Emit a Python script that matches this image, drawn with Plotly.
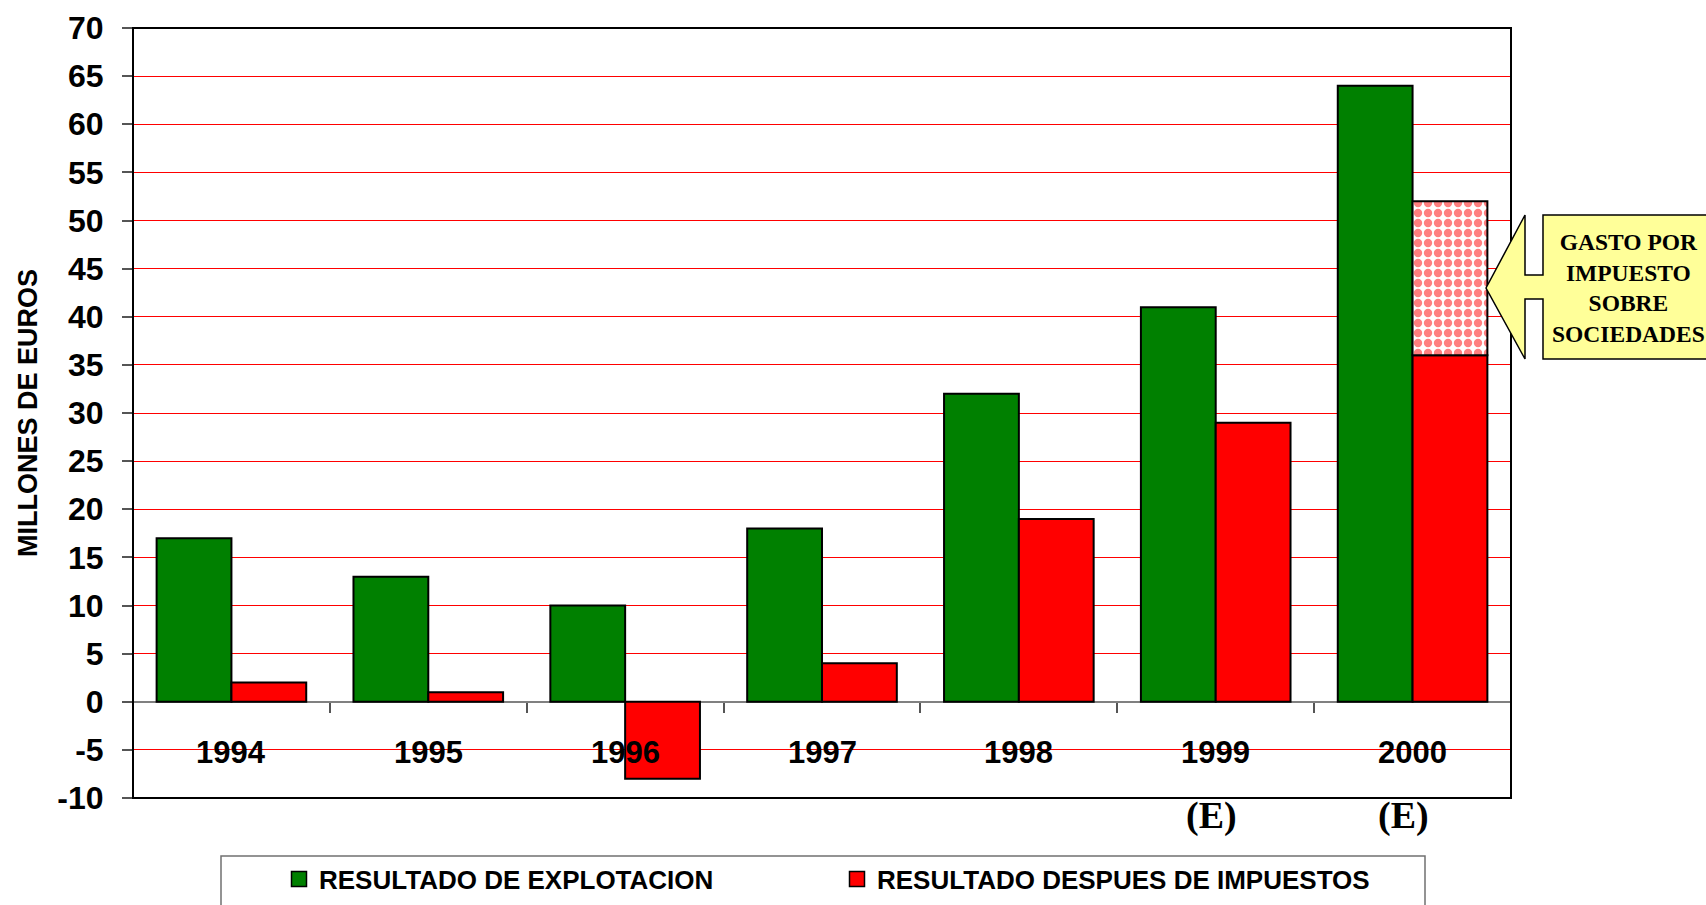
import plotly.graph_objects as go

# Data (millones de euros)
years = ["1994", "1995", "1996", "1997", "1998", "1999", "2000"]
resultado_explotacion = [17, 13, 10, 18, 32, 41, 64]
resultado_despues_impuestos = [2, 1, -8, 4, 19, 29, 36]
# corporate tax expense shown stacked over the 2000 net result
tax_year = "2000"
tax_top = 52
estimated_years = ["1999", "2000"]
y_ticks = list(range(-10, 75, 5))
y_tick_labels = [str(v) for v in y_ticks]

series_names = ["RESULTADO DE EXPLOTACION", "RESULTADO DESPUES DE IMPUESTOS"]

GREEN = "#008000"
RED = "#FF0000"
SANS = "Liberation Sans, Arial, sans-serif"
SERIF = "Liberation Serif, Times New Roman, serif"

W_PX, H_PX = 1706, 905
L, R, T, B = 133, 1511, 28, 798


def px(x):
    return (x - L) / (R - L)


def py(y):
    return (B - y) / (B - T)


fig = go.Figure()

fig.add_trace(go.Bar(
    x=years, y=resultado_explotacion, name=series_names[0],
    marker=dict(color=GREEN, line=dict(color="black", width=2)),
    offsetgroup="a", showlegend=False,
))
fig.add_trace(go.Bar(
    x=years, y=resultado_despues_impuestos, name=series_names[1],
    marker=dict(color=RED, line=dict(color="black", width=2)),
    offsetgroup="b", showlegend=False,
))
net_2000 = resultado_despues_impuestos[years.index(tax_year)]
fig.add_trace(go.Bar(
    x=[tax_year], y=[tax_top - net_2000], base=[net_2000],
    marker=dict(color="white", line=dict(color="black", width=2),
                pattern=dict(shape=".", fgcolor=RED, bgcolor="white",
                             size=10, solidity=0.55)),
    offsetgroup="b", showlegend=False, hoverinfo="skip",
))

# Legend entries with larger square swatches
for name, color in zip(series_names, [GREEN, RED]):
    fig.add_trace(go.Scatter(
        x=[None], y=[None], mode="markers", name=f"<b>{name}</b>",
        marker=dict(symbol="square", size=15, color=color,
                    line=dict(color="black", width=1.5)),
    ))

# Year labels inside the plot, just below the zero line
# (category axes take the category index for annotation positions)
for i, yr in enumerate(years):
    fig.add_annotation(x=i, y=-5, xref="x", yref="y", text=f"<b>{yr}</b>",
                       yshift=-3, showarrow=False,
                       font=dict(family=SANS, size=31, color="black"))
for yr, shift in zip(estimated_years, [-4, -9]):
    fig.add_annotation(x=years.index(yr), y=py(815), xref="x", yref="paper",
                       text="<b>(E)</b>", xshift=shift, yanchor="middle",
                       showarrow=False,
                       font=dict(family=SERIF, size=38, color="black"))

# Y axis title
fig.add_annotation(x=px(28), y=py(413), xref="paper", yref="paper",
                   text="<b>MILLONES DE EUROS</b>", textangle=-90, showarrow=False,
                   xanchor="center", yanchor="middle",
                   font=dict(family=SANS, size=27, color="black"))

# Plot frame
fig.add_shape(type="rect", xref="paper", yref="paper", x0=0, x1=1, y0=0, y1=1,
              line=dict(color="black", width=2), fillcolor="rgba(0,0,0,0)",
              layer="above")

# Callout arrow pointing at the tax expense
pts = [(1486, 288), (1525, 215), (1525, 275), (1543, 275), (1543, 215),
       (1725, 215), (1725, 359), (1543, 359), (1543, 299), (1525, 299),
       (1525, 359)]
path = "M " + " L ".join(f"{px(x):.5f},{py(y):.5f}" for x, y in pts) + " Z"
fig.add_shape(type="path", path=path, xref="paper", yref="paper",
              fillcolor="#FFFF99", line=dict(color="black", width=1.5),
              layer="above")
fig.add_annotation(x=px(1628), y=py(288), xref="paper", yref="paper",
                   text="<b>GASTO POR<br>IMPUESTO<br>SOBRE<br>SOCIEDADES</b>",
                   showarrow=False, xanchor="center", yanchor="middle",
                   font=dict(family=SERIF, size=23.5, color="black"))

# Legend frame
fig.add_shape(type="rect", xref="paper", yref="paper",
              x0=px(221), x1=px(1425), y0=py(856), y1=py(930),
              line=dict(color="#707070", width=1.5), fillcolor="rgba(0,0,0,0)")

fig.update_layout(
    width=W_PX, height=H_PX,
    margin=dict(l=L, r=W_PX - R, t=T, b=H_PX - B, autoexpand=False),
    paper_bgcolor="white", plot_bgcolor="white",
    barmode="group", bargap=0.24, bargroupgap=0,
    showlegend=True,
    legend=dict(orientation="h", x=px(279), xanchor="left", y=py(879),
                yanchor="middle", entrywidth=513, entrywidthmode="pixels",
                font=dict(family=SANS, size=26, color="black"),
                bgcolor="rgba(0,0,0,0)", borderwidth=0, traceorder="normal"),
    xaxis=dict(type="category", range=[-0.5, len(years) - 0.5],
               anchor="free", position=py(702),
               showticklabels=False, ticks="outside", tickson="boundaries",
               ticklen=10, tickwidth=1.5, tickcolor="#555555",
               showgrid=False, zeroline=False, showline=False),
    yaxis=dict(range=[-10, 70], tickvals=y_ticks, ticktext=y_tick_labels,
               ticks="outside", ticklen=10,
               tickwidth=1.5, tickcolor="#555555", ticklabelstandoff=12,
               tickfont=dict(family=SANS, size=32, color="black", weight="bold"),
               showgrid=True, gridcolor=RED, gridwidth=1,
               zeroline=True, zerolinecolor="#808080", zerolinewidth=1.5,
               showline=False),
    hovermode=False,
)

fig.write_html("out.html", config={"displayModeBar": False})
